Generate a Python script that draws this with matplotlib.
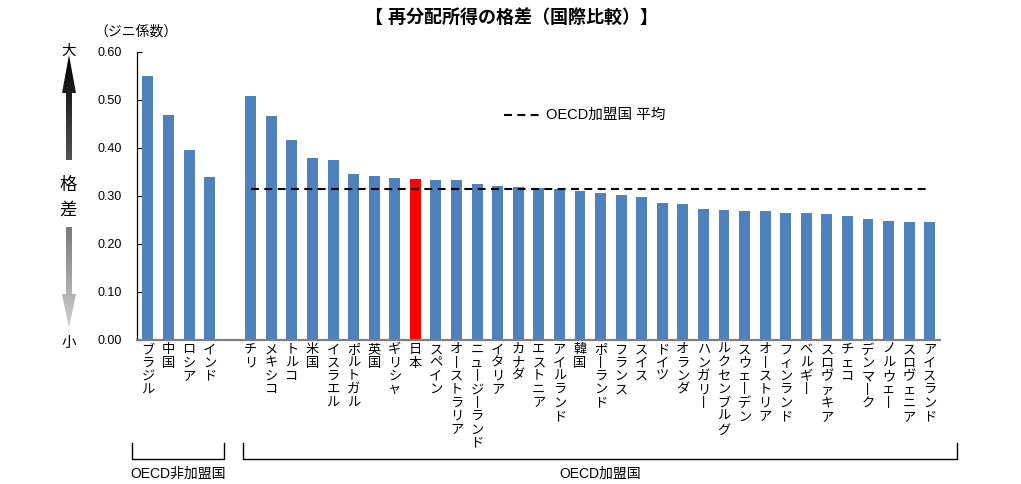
import matplotlib
matplotlib.use('Agg')
import matplotlib.pyplot as plt
import numpy as np
from matplotlib.patches import Polygon
from matplotlib.colors import LinearSegmentedColormap

plt.rcParams['font.family'] = ['Liberation Sans', 'Noto Sans CJK JP']

# ---------------- data ----------------
non_oecd_names = ['ブラジル', '中国', 'ロシア', 'インド']
non_oecd_vals = [0.550, 0.469, 0.396, 0.340]

oecd_names = ['チリ', 'メキシコ', 'トルコ', '米国', 'イスラエル', 'ポルトガル', '英国',
              'ギリシャ', '日本', 'スペイン', 'オーストラリア', 'ニュージーランド',
              'イタリア', 'カナダ', 'エストニア', 'アイルランド', '韓国', 'ポーランド',
              'フランス', 'スイス', 'ドイツ', 'オランダ', 'ハンガリー', 'ルクセンブルグ',
              'スウェーデン', 'オーストリア', 'フィンランド', 'ベルギー', 'スロヴァキア',
              'チェコ', 'デンマーク', 'ノルウェー', 'スロヴェニア', 'アイスランド']
oecd_vals = [0.509, 0.466, 0.416, 0.380, 0.376, 0.345, 0.341, 0.337, 0.336, 0.334,
             0.334, 0.324, 0.321, 0.319, 0.317, 0.314, 0.310, 0.306, 0.303, 0.298,
             0.285, 0.283, 0.272, 0.271, 0.269, 0.269, 0.265, 0.264, 0.263, 0.258,
             0.252, 0.248, 0.246, 0.246]
oecd_avg = 0.315
highlight = '日本'

yticks = [0.0, 0.1, 0.2, 0.3, 0.4, 0.5, 0.6]

title = '【 再分配所得の格差（国際比較）】'
ylabel = '（ジニ係数）'
legend_label = 'OECD加盟国 平均'
group_labels = ['OECD非加盟国', 'OECD加盟国']

# ---------------- layout ----------------
W, H = 1021, 484
fig = plt.figure(figsize=(W / 100, H / 100), dpi=100)
ax = fig.add_axes([137 / W, 1 - 340 / H, (940 - 137) / W, (340 - 52) / H])

gap = 1
pos_non = list(range(len(non_oecd_names)))
pos_oecd = [len(non_oecd_names) + gap + i for i in range(len(oecd_names))]
positions = pos_non + pos_oecd
names = non_oecd_names + oecd_names
vals = non_oecd_vals + oecd_vals
blue = '#4F81BD'
colors = ['#FF0000' if n == highlight else blue for n in names]

ax.bar(positions, vals, width=0.53, color=colors, zorder=2)
ax.plot([pos_oecd[0], pos_oecd[-1]], [oecd_avg, oecd_avg], color='black', lw=1.5,
        dashes=(3.8, 2.6), zorder=3)

ax.set_xlim(-0.53, positions[-1] + 0.5)
ax.set_ylim(0, 0.6)
ax.set_yticks(yticks)
ax.set_yticklabels([f'{v:.2f}' for v in yticks], fontsize=9)
ax.tick_params(axis='y', direction='in', length=3.5, width=0.8, pad=11)


def vert(s):
    return '\n'.join('丨' if c == 'ー' else c for c in s)


ax.set_xticks(positions)
ax.set_xticklabels([vert(n) for n in names], fontsize=9.5, va='top', ha='center',
                   linespacing=1.15)
ax.tick_params(axis='x', length=0, pad=3)

for s in ['top', 'right']:
    ax.spines[s].set_visible(False)
ax.spines['left'].set_color('black')
ax.spines['left'].set_linewidth(0.9)
ax.spines['bottom'].set_color('#7f7f7f')
ax.spines['bottom'].set_linewidth(1.6)

# ---------------- overlay (pixel coords) ----------------
ov = fig.add_axes([0, 0, 1, 1])
ov.set_xlim(0, W)
ov.set_ylim(H, 0)
ov.axis('off')
ov.patch.set_alpha(0)

ov.text(511, 18, title, fontsize=13, fontweight='bold', ha='center', va='center')
ov.text(94, 32, ylabel, fontsize=10, ha='left', va='center')

# legend
ov.plot([504, 540], [115, 115], color='black', lw=1.5, dashes=(3.8, 2.6))
ov.text(546, 115, legend_label, fontsize=10.5, ha='left', va='center')

# gradient arrows
def grad_arrow(poly_pts, c_top, c_bot):
    poly = Polygon(poly_pts, closed=True, facecolor='none', edgecolor='none')
    ov.add_patch(poly)
    xs = [p[0] for p in poly_pts]
    ys = [p[1] for p in poly_pts]
    cmap = LinearSegmentedColormap.from_list('g', [c_top, c_bot])
    g = np.linspace(0, 1, 256).reshape(-1, 1)
    im = ov.imshow(g, cmap=cmap, extent=(min(xs), max(xs), max(ys), min(ys)),
                   origin='upper', aspect='auto', interpolation='bilinear')
    im.set_clip_path(poly)

cx = 69
grad_arrow([(cx, 55), (cx - 7, 93), (cx - 3, 93), (cx - 3, 160), (cx + 3, 160),
            (cx + 3, 93), (cx + 7, 93)], '#000000', '#555555')
grad_arrow([(cx - 3, 227), (cx + 3, 227), (cx + 3, 294), (cx + 7, 294), (cx, 328),
            (cx - 7, 294), (cx - 3, 294)], '#7a7a7a', '#cfcfcf')
ov.set_xlim(0, W)
ov.set_ylim(H, 0)

ov.text(cx, 51, '大', fontsize=10.5, ha='center', va='center')
ov.text(cx - 1, 185, '格', fontsize=12.5, ha='center', va='center')
ov.text(cx - 1, 210, '差', fontsize=12.5, ha='center', va='center')
ov.text(cx, 343, '小', fontsize=10.5, ha='center', va='center')

# group brackets
for (x0, x1), lab in zip([(132, 224), (243, 957)], group_labels):
    ov.plot([x0, x0, x1, x1], [443, 459, 459, 443], color='black', lw=1.0)
    ov.text((x0 + x1) / 2, 474, lab, fontsize=10, ha='center', va='center')

fig.savefig('out.png', dpi=100)
